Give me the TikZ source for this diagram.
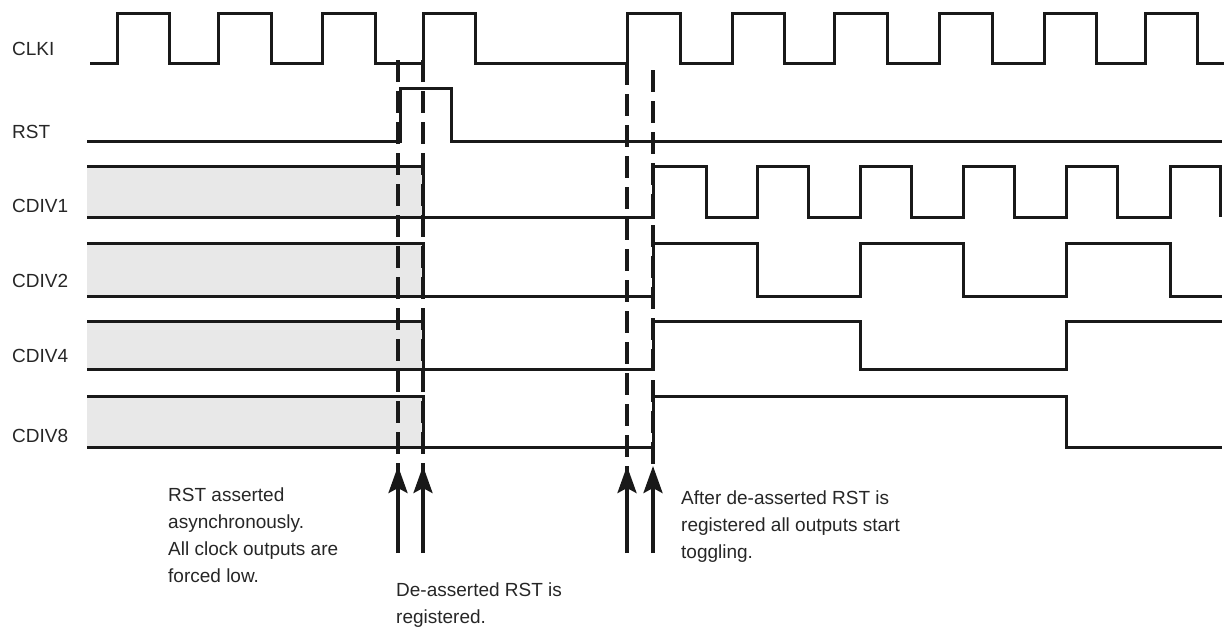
\documentclass[tikz,border=0pt]{standalone}
\usepackage{fontspec}
\setsansfont{Liberation Sans}
\usetikzlibrary{arrows.meta}
\tikzstyle{every picture}+=[font=\sffamily]

\begin{document}
\begin{tikzpicture}
	[font=\sffamily, x=1pt, y=-1pt, line join=miter,
	wave/.style	= {draw=black!90, line width=3pt},
	shade/.style	= {fill=black!9, draw=none},
	marker/.style	= {draw=black!90, line width=4.5pt, dash pattern=on 22pt off 9pt},
	pointer/.style	= {-{Stealth[length=27pt,width=19pt,inset=5pt]}, draw=black!90, line width=3.5pt},
	signame/.style	= {anchor=base west, inner sep=0pt, text=black!85, font=\sffamily\fontsize{19}{27}\selectfont},
	note/.style	= {anchor=north west, align=left, inner sep=0pt, text=black!85, font=\sffamily\fontsize{19}{27}\selectfont}]

	\useasboundingbox (0,0) rectangle (1225,630);

	\node at (12, 55)	[signame]	(clki)	{CLKI};
	\node at (12, 138)	[signame]	(rst)	{RST};
	\node at (12, 212)	[signame]	(cdiv1)	{CDIV1};
	\node at (12, 287)	[signame]	(cdiv2)	{CDIV2};
	\node at (12, 362)	[signame]	(cdiv4)	{CDIV4};
	\node at (12, 442)	[signame]	(cdiv8)	{CDIV8};

	\fill [shade] (87,166) rectangle (423,217);
	\fill [shade] (87,243) rectangle (423,296);
	\fill [shade] (87,321) rectangle (423,369);
	\fill [shade] (87,396) rectangle (423,447);

	\draw [wave] (90,63) -| (117,13) -| (169,63) -| (218,13) -| (271,63) -| (322,13) -| (375,63) -| (423,13) -| (475,63)
		-| (627,13) -| (680,63) -| (732,13) -| (784,63) -| (834,13) -| (887,63) -| (939,13) -| (992,63)
		-| (1044,13) -| (1096,63) -| (1145,13) -| (1197,63) -- (1224,63);
	\draw [wave] (87,141) -| (400,88) -| (451,141) -- (1222,141);

	\draw [wave] (87,166) -| (423,217);
	\draw [wave] (87,217) -| (653,166) -| (706,217) -| (757,166) -| (808,217) -| (860,166) -| (911,217) -| (963,166)
		-| (1014,217) -| (1066,166) -| (1117,217) -| (1170,166) -| (1220,217);
	\draw [wave] (87,243) -| (423,296);
	\draw [wave] (87,296) -| (653,243) -| (757,296) -| (860,243) -| (963,296) -| (1066,243) -| (1170,296) -- (1222,296);
	\draw [wave] (87,321) -| (423,369);
	\draw [wave] (87,369) -| (653,321) -| (860,369) -| (1066,321) -- (1222,321);
	\draw [wave] (87,396) -| (423,447);
	\draw [wave] (87,447) -| (653,396) -| (1066,447) -- (1222,447);

	\coordinate (asyn top)	at (398,60);
	\coordinate (asyn tip)	at (398,466);
	\coordinate (asyn end)	at (398,553);
	\coordinate (reg top)	at (423,60);
	\coordinate (reg tip)	at (423,466);
	\coordinate (reg end)	at (423,553);
	\coordinate (rel top)	at (627,63);
	\coordinate (rel tip)	at (627,466);
	\coordinate (rel end)	at (627,553);
	\coordinate (tog top)	at (653,70);
	\coordinate (tog tip)	at (653,466);
	\coordinate (tog end)	at (653,553);

	\draw [marker] (asyn top) -- ([yshift=-8pt]asyn tip);
	\draw [marker] (reg top) -- ([yshift=-8pt]reg tip);
	\draw [marker] (rel top) -- ([yshift=-8pt]rel tip);
	\draw [marker] (tog top) -- ([yshift=-8pt]tog tip);

	\draw [pointer] (asyn end) -- (asyn tip);
	\draw [pointer] (reg end) -- (reg tip);
	\draw [pointer] (rel end) -- (rel tip);
	\draw [pointer] (tog end) -- (tog tip);

	\node at (168, 488)	[note]	(asyn note)	{RST asserted\\asynchronously.\\All clock outputs are\\forced low.};
	\node at (396, 583)	[note]	(reg note)	{De-asserted RST is\\registered.};
	\node at (681, 491)	[note]	(tog note)	{After de-asserted RST is\\registered all outputs start\\toggling.};

\end{tikzpicture}
\end{document}
